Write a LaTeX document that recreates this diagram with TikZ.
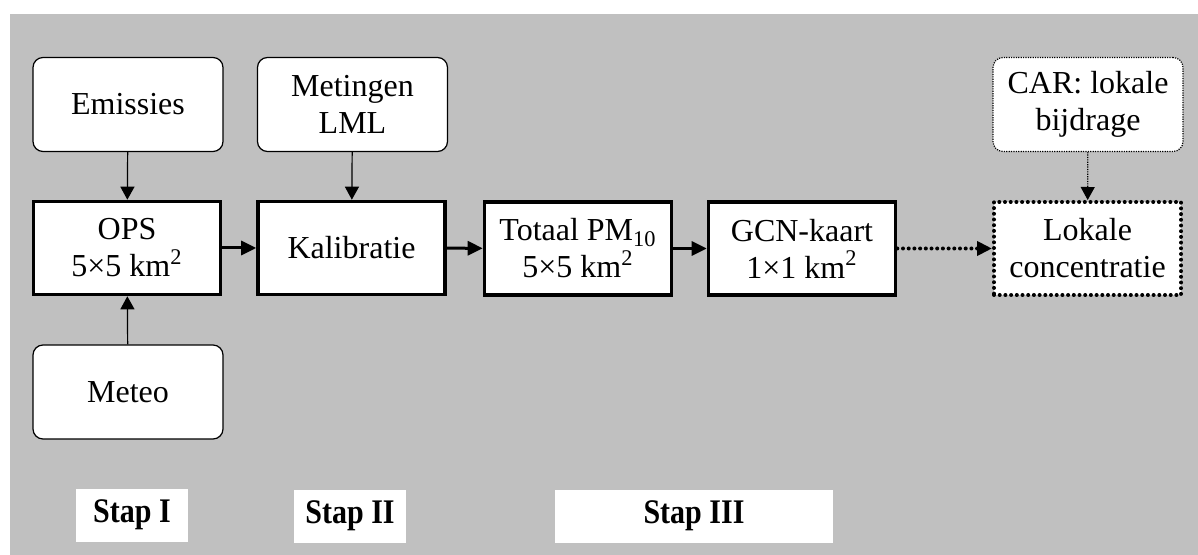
\documentclass[tikz,border=0pt]{standalone}
\usepackage{fontspec}
\setmainfont{Liberation Serif}
\usepackage{graphicx}
\usepackage{xcolor}
\usepackage{tikz}
\usetikzlibrary{arrows.meta,positioning}
\definecolor{bggray}{RGB}{192,192,192}
\newcommand{\stapname}[1]{\scalebox{1}[1.15]{Stap #1}}
\tikzset{source/.style={draw, fill=white, rounded corners=5pt, line width=0.6pt,
		minimum height=47pt, minimum width=95pt, align=center},
	block/.style={draw, fill=white, rectangle, line width=1.8pt,
		minimum height=46.5pt, minimum width=93.5pt, align=center},
	result/.style={block, dash pattern=on 0pt off 2.85pt, line cap=round, line width=2pt},
	carbox/.style={source, dash pattern=on 0.6pt off 0.6pt},
	steplabel/.style={fill=white, font=\fontsize{15}{18}\selectfont\bfseries,
		minimum height=26.5pt},
	arrow/.style={draw, line width=1.5pt, -{Triangle[length=7.5pt,width=7pt]}},
	thinarrow/.style={draw, line width=0.6pt, -{Triangle[length=6.5pt,width=7pt]}},
	dotarrow/.style={arrow, dash pattern=on 0pt off 2.85pt, line cap=round, line width=2pt},
	thindotarrow/.style={thinarrow, dash pattern=on 0.6pt off 0.6pt}}

\begin{document}
\begin{tikzpicture}[x=0.5pt,y=-0.5pt,every node/.style={font=\fontsize{16}{18.5}\selectfont}]
		\useasboundingbox(0,0)rectangle(1198,555);
		\fill[bggray](10,14)rectangle(1198,555);
		
		\node[source](emis)at(128,104.5){Emissies};
		\node[source](lml)at(352.5,104.5){Metingen\\LML};
		\node[source](meteo)at(128,392){Meteo};
		\node[carbox](car)at(1088,104.5){CAR: lokale\\bijdrage};
		
		\node[block](b1)at(127,248){OPS\\5×5 km\textsuperscript{2}};
		\node[block](b2)at(351.5,248){Kalibratie};
		\node[block](b3)at(578,248.5){Totaal PM\textsubscript{10}\\5×5 km\textsuperscript{2}};
		\node[block](b4)at(802,248.5){GCN-kaart\\1×1 km\textsuperscript{2}};
		\node[result](lok)at(1087.5,248.5){Lokale\\concentratie};
		
		\node[steplabel,minimum width=56pt](s1)at(132,515){\stapname{I}};
		\node[steplabel,minimum width=56pt](s2)at(350,516){\stapname{II}};
		\node[steplabel,minimum width=139pt](s3)at(694,516){\stapname{III}};
		
		\draw[thinarrow](emis)--(b1);
		\draw[thinarrow](meteo)--(b1);
		\draw[thinarrow](lml)--(b2);
		\foreach \x/\y in{1/2,2/3,3/4}
		\draw[arrow](b\x)--(b\y);
		\draw[dotarrow](b4)--(lok);
		\draw[thindotarrow](car)--(lok);
	\end{tikzpicture}
\end{document}
